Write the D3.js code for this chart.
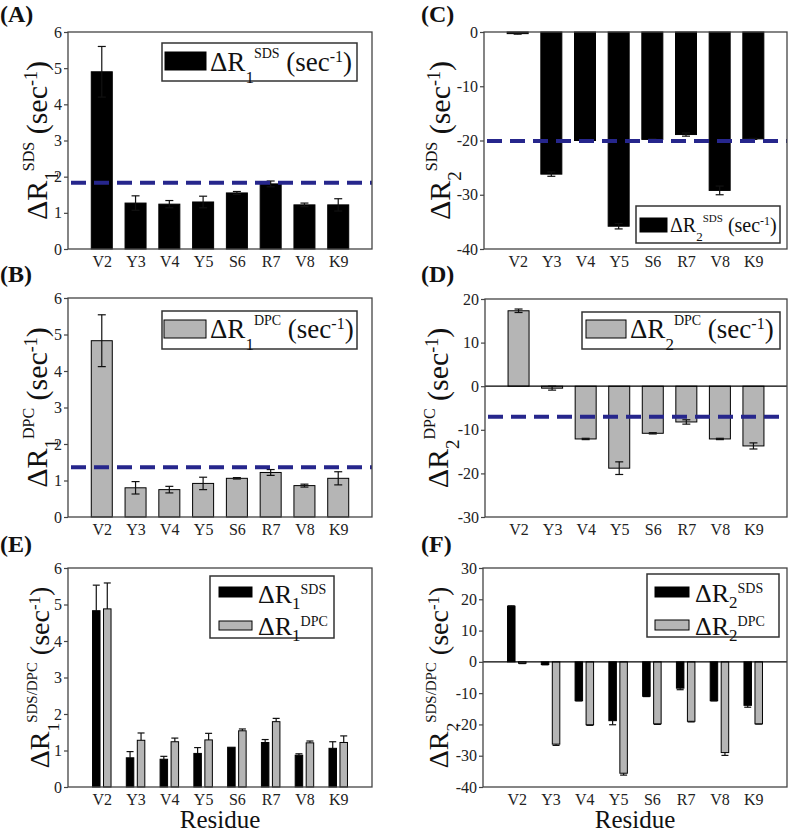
<!DOCTYPE html>
<html><head><meta charset="utf-8">
<script src="https://cdn.jsdelivr.net/npm/d3@7"></script>
<style>body{margin:0;background:#fff}svg{display:block}
svg text{font-family:"Liberation Serif","Times New Roman",Times,"DejaVu Serif","Noto Serif",serif;}</style>
</head><body>
<script>
// ---------- data ----------
const categories = ["V2","Y3","V4","Y5","S6","R7","V8","K9"];

const r1SDS    = [4.90, 1.27, 1.24, 1.30, 1.55, 1.80, 1.22, 1.22];
const r1SDSErr = [0.70, 0.20, 0.10, 0.16, 0.04, 0.08, 0.05, 0.17];
const r1SDSAvg = 1.83;

const r1DPC    = [4.83, 0.80, 0.75, 0.92, 1.06, 1.22, 0.86, 1.06];
const r1DPCErr = [0.71, 0.17, 0.09, 0.17, 0.02, 0.08, 0.04, 0.18];
const r1DPCAvg = 1.36;

const r2SDS    = [-0.3, -26.2, -20.0, -35.8, -19.8, -18.9, -29.2, -19.7];
const r2SDSErr = [0.1, 0.4, 0.15, 0.5, 0.1, 0.3, 0.8, 0.1];
const r2SDSAvg = -20.1;

const r2DPC    = [17.3, -0.45, -12.1, -18.8, -10.8, -8.2, -12.1, -13.7];
const r2DPCErr = [0.4, 0.45, 0.15, 1.45, 0.15, 0.5, 0.15, 0.7];
const r2DPCAvg = -7.0;

const eBlack    = [4.83, 0.80, 0.76, 0.92, 1.09, 1.22, 0.87, 1.06];
const eBlackErr = [0.70, 0.17, 0.08, 0.16, 0.0, 0.08, 0.04, 0.18];
const eGray     = [4.88, 1.28, 1.24, 1.29, 1.54, 1.79, 1.21, 1.22];
const eGrayErr  = [0.71, 0.20, 0.10, 0.18, 0.05, 0.09, 0.05, 0.18];

const fBlack    = [17.8, -0.85, -12.4, -18.8, -11.0, -8.4, -12.4, -13.9];
const fBlackErr = [0.1, 0.1, 0.1, 1.3, 0.1, 0.5, 0.1, 0.6];
const fGray     = [-0.45, -26.3, -20.1, -35.6, -19.8, -19.0, -29.0, -19.8];
const fGrayErr  = [0.1, 0.4, 0.2, 0.6, 0.2, 0.2, 0.9, 0.1];

const ticksR1  = [0,1,2,3,4,5,6];
const ticksC   = [-40,-30,-20,-10,0];
const ticksD   = [-30,-20,-10,0,10,20];
const ticksF   = [-40,-30,-20,-10,0,10,20,30];

// ---------- drawing ----------
const BLACK = "#000", GRAY = "#b5b5b5", DASH = "#26268c", FRAME = "#444";
const FONT = '"Liberation Serif","Times New Roman",Times,"DejaVu Serif","Noto Serif",serif';
const svg = d3.select("body").append("svg")
  .attr("width", 790).attr("height", 832)
  .attr("font-family", FONT);

function rich(sel, parts) {
  let prev = 0;
  parts.forEach(([t, size, shift]) => {
    sel.append("tspan").attr("font-size", size).attr("dy", (shift || 0) - prev).text(t);
    prev = shift || 0;
  });
  return sel;
}

function panel(cfg) {
  const {left, right, top, bottom, domain, ticks, series, avg, labelX, labelParts, tag, tagX, tagY, xTitle} = cfg;
  const x = d3.scaleLinear().domain([0, 9]).range([left, right]);
  const y = d3.scaleLinear().domain(domain).range([bottom, top]);
  const g = svg.append("g");

  const ya = g.append("g").attr("transform", `translate(${left},0)`)
    .call(d3.axisLeft(y).tickValues(ticks).tickSize(4).tickPadding(2).tickFormat(d => String(d)));
  ya.attr("font-family", FONT);
  ya.select(".domain").remove();
  ya.selectAll(".tick line").attr("stroke", FRAME).attr("stroke-width", 1.2);
  ya.selectAll(".tick text").attr("font-size", 16).attr("fill", "#222");

  const xa = g.append("g").attr("transform", `translate(0,${bottom})`)
    .call(d3.axisBottom(x).tickValues(d3.range(1, 9)).tickSize(0).tickPadding(7).tickFormat(d => categories[d - 1]));
  xa.attr("font-family", FONT);
  xa.select(".domain").remove();
  xa.selectAll(".tick text").attr("font-size", 16).attr("fill", "#222");

  const y0 = y(Math.max(domain[0], Math.min(domain[1], 0)));
  const n = series.length;
  const bw = n === 1 ? 21 : 7.5;
  const off = n === 1 ? [0] : [-5.5, 5.5];

  series.forEach((s, si) => {
    const cx = (i) => x(i + 1) + off[si];
    const gg = g.append("g");
    if (!s.both) {
      s.err.forEach((e, i) => {
        if (!e) return;
        const v = s.values[i], sgn = v >= 0 ? 1 : -1;
        const ye = y(v + sgn * e);
        gg.append("line").attr("x1", cx(i)).attr("x2", cx(i)).attr("y1", y(v)).attr("y2", ye).attr("stroke", "#111").attr("stroke-width", 1.2);
        gg.append("line").attr("x1", cx(i) - 3.5).attr("x2", cx(i) + 3.5).attr("y1", ye).attr("y2", ye).attr("stroke", "#111").attr("stroke-width", 1.2);
      });
    }
    gg.selectAll("rect").data(s.values).join("rect")
      .attr("x", (d, i) => cx(i) - bw / 2)
      .attr("width", bw)
      .attr("y", d => Math.min(y(d), y0))
      .attr("height", d => Math.abs(y(d) - y0))
      .attr("fill", s.color).attr("stroke", "#000").attr("stroke-width", 1);
    if (s.both) {
      s.err.forEach((e, i) => {
        const v = s.values[i];
        const a = y(v + e), b = y(v - e);
        gg.append("line").attr("x1", cx(i)).attr("x2", cx(i)).attr("y1", a).attr("y2", b).attr("stroke", "#111").attr("stroke-width", 1.2);
        [a, b].forEach(yy => gg.append("line").attr("x1", cx(i) - 4).attr("x2", cx(i) + 4).attr("y1", yy).attr("y2", yy).attr("stroke", "#111").attr("stroke-width", 1.2));
      });
    }
  });

  if (domain[0] < 0 && domain[1] > 0) {
    g.append("line").attr("x1", left).attr("x2", right).attr("y1", y(0)).attr("y2", y(0)).attr("stroke", "#000").attr("stroke-width", 1.2);
  }
  if (avg !== undefined) {
    g.append("line").attr("x1", left + 3).attr("x2", right).attr("y1", y(avg)).attr("y2", y(avg))
      .attr("stroke", DASH).attr("stroke-width", 4).attr("stroke-dasharray", "15,8");
  }
  g.append("rect").attr("x", left).attr("y", top).attr("width", right - left).attr("height", bottom - top)
    .attr("fill", "none").attr("stroke", FRAME).attr("stroke-width", 1.3);

  const t = g.append("text").attr("transform", `translate(${labelX},${(top + bottom) / 2}) rotate(-90)`)
    .attr("text-anchor", "middle").style("white-space", "pre").attr("fill", "#111");
  rich(t, labelParts);

  g.append("text").attr("x", tagX).attr("y", tagY).attr("font-size", 24).attr("font-weight", "bold").attr("fill", "#111").text(tag);

  if (xTitle) {
    g.append("text").attr("x", (left + right) / 2).attr("y", 828).attr("text-anchor", "middle")
      .attr("font-size", 25).attr("fill", "#111").text(xTitle);
  }
  return {x, y, g};
}

function yLabel(sub, sup, f) {
  const k = f / 30;
  return [["ΔR", f, 0], [sub, 19 * k, 11 * k], [sup, 16 * k, -13 * k], [" (sec", f, 0], ["-1", 18 * k, -10 * k], [")", f, 0]];
}

function legendBox(x0, y0, w, h) {
  svg.append("rect").attr("x", x0).attr("y", y0).attr("width", w).attr("height", h)
    .attr("fill", "#fff").attr("stroke", "#333").attr("stroke-width", 1.5);
}
function swatch(x0, y0, w, h, color) {
  svg.append("rect").attr("x", x0).attr("y", y0).attr("width", w).attr("height", h)
    .attr("fill", color).attr("stroke", "#000").attr("stroke-width", 1);
}
function legendText(x0, y0, parts) {
  const t = svg.append("text").attr("x", x0).attr("y", y0).style("white-space", "pre").attr("fill", "#111");
  rich(t, parts);
}

// (A)
panel({left: 68, right: 372, top: 32, bottom: 249, domain: [0, 6], ticks: ticksR1,
  series: [{values: r1SDS, err: r1SDSErr, color: BLACK, both: true}], avg: r1SDSAvg,
  labelX: 47, labelParts: yLabel("1", "SDS", 30), tag: "(A)", tagX: 0, tagY: 22});
legendBox(162, 43, 195, 38); swatch(165, 52, 41, 18, BLACK);
legendText(210, 71, [["ΔR", 27, 0], ["1", 17, 12], ["SDS", 14, -13], [" (sec", 27, 0], ["-1", 16, -9], [")", 27, 0]]);

// (B)
panel({left: 68, right: 372, top: 298, bottom: 517, domain: [0, 6], ticks: ticksR1,
  series: [{values: r1DPC, err: r1DPCErr, color: GRAY, both: true}], avg: r1DPCAvg,
  labelX: 47, labelParts: yLabel("1", "DPC", 30), tag: "(B)", tagX: 0, tagY: 282});
legendBox(162, 311, 195, 38); swatch(164, 320, 42, 18, GRAY);
legendText(210, 338, [["ΔR", 27, 0], ["1", 17, 12], ["DPC", 14, -13], [" (sec", 27, 0], ["-1", 16, -9], [")", 27, 0]]);

// (C)
panel({left: 484, right: 787, top: 32, bottom: 249, domain: [-40, 0], ticks: ticksC,
  series: [{values: r2SDS, err: r2SDSErr, color: BLACK, both: true}], avg: r2SDSAvg,
  labelX: 450, labelParts: yLabel("2", "SDS", 30), tag: "(C)", tagX: 421, tagY: 22});
legendBox(636, 206, 144, 37); swatch(640, 218, 27, 14, BLACK);
legendText(670, 232, [["ΔR", 20, 0], ["2", 13, 9], ["SDS", 11, -10], [" (sec", 20, 0], ["-1", 12, -7], [")", 20, 0]]);

// (D)
panel({left: 485, right: 787, top: 299, bottom: 517, domain: [-30, 20], ticks: ticksD,
  series: [{values: r2DPC, err: r2DPCErr, color: GRAY, both: true}], avg: r2DPCAvg,
  labelX: 448, labelParts: yLabel("2", "DPC", 30), tag: "(D)", tagX: 421, tagY: 282});
legendBox(582, 312, 198, 37); swatch(586, 320, 40, 18, GRAY);
legendText(630, 338, [["ΔR", 27, 0], ["2", 17, 12], ["DPC", 14, -13], [" (sec", 27, 0], ["-1", 16, -9], [")", 27, 0]]);

// (E)
panel({left: 68, right: 372, top: 568, bottom: 787, domain: [0, 6], ticks: ticksR1,
  series: [{values: eBlack, err: eBlackErr, color: BLACK}, {values: eGray, err: eGrayErr, color: GRAY}],
  labelX: 49, labelParts: yLabel("1", "SDS/DPC", 28), tag: "(E)", tagX: 0, tagY: 552, xTitle: "Residue"});
legendBox(210, 576, 124, 62);
swatch(219, 587, 33, 10, BLACK); swatch(219, 621, 33, 9, GRAY);
legendText(258, 603, [["ΔR", 26, 0], ["1", 17, 6], ["SDS", 14, -9]]);
legendText(258, 635, [["ΔR", 26, 0], ["1", 17, 6], ["DPC", 14, -9]]);

// (F)
panel({left: 483, right: 787, top: 568, bottom: 787, domain: [-40, 30], ticks: ticksF,
  series: [{values: fBlack, err: fBlackErr, color: BLACK}, {values: fGray, err: fGrayErr, color: GRAY}],
  labelX: 448, labelParts: yLabel("2", "SDS/DPC", 28), tag: "(F)", tagX: 421, tagY: 552, xTitle: "Residue"});
legendBox(647, 574, 132, 63);
swatch(655, 587, 34, 10, BLACK); swatch(655, 620, 34, 10, GRAY);
legendText(695, 602, [["ΔR", 26, 0], ["2", 17, 6], ["SDS", 14, -9]]);
legendText(695, 635, [["ΔR", 26, 0], ["2", 17, 6], ["DPC", 14, -9]]);
</script>
</body></html>
